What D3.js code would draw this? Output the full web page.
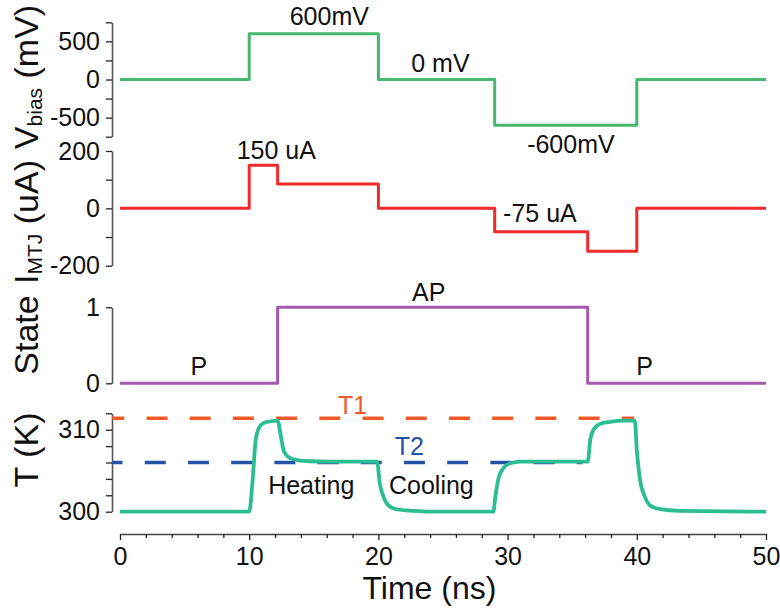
<!DOCTYPE html>
<html>
<head>
<meta charset="utf-8">
<script src="https://cdn.jsdelivr.net/npm/d3@7"></script>
<style>
  html, body { margin: 0; padding: 0; background: #fff; }
  svg { display: block; }
  text { font-family: "Liberation Sans", Arial, sans-serif; fill: #111; }
</style>
</head>
<body>
<svg id="chart" width="780" height="610"></svg>
<script>
// ---------------- data ----------------
// Vbias (mV) step levels, starting at each time (ns)
const vTimes  = [0, 10, 20, 29, 40, 50];
const vLevels = [0, 600, 0, -600, 0, 0];

// I_MTJ (uA) step levels
const iTimes  = [0, 10, 12.2, 20, 29, 36.2, 40, 50];
const iLevels = [0, 150, 85, 0, -82, -150, 0, 0];

// MTJ state (0 = P, 1 = AP)
const sTimes  = [0, 12.2, 36.2, 50];
const sLevels = [0, 1, 0, 0];

// Temperature (K)
const tTimes = [0, 10.0, 10.25, 10.5, 10.75, 11.1, 11.6, 12.2, 12.45, 12.7, 13.1, 13.7, 14.7, 16.3,
                19.9, 20.1, 20.4, 20.75, 21.4, 22.7, 24,
                28.9, 29.05, 29.3, 29.67, 30.19, 30.96, 32.0,
                36.2, 36.4, 36.65, 37.15, 37.93, 38.96, 39.85,
                40.0, 40.25, 40.63, 41.0, 41.8, 43.3, 50];
const tTemps = [300, 300, 303.5, 308.7, 310.2, 310.8, 311.0, 311.1, 309.2, 307.3, 306.6, 306.3, 306.15, 306.1,
                306.1, 303.5, 301.8, 300.8, 300.3, 300.1, 300,
                300, 301.8, 304.1, 305.3, 305.9, 306.1, 306.1,
                306.1, 308.8, 310.0, 310.7, 310.95, 311.1, 311.1,
                307.5, 303.9, 301.8, 300.8, 300.3, 300.1, 300];

// Threshold temperatures (dashed)
const thrNames  = ["T1", "T2"];
const thrTemps  = [311.4, 306.0];
const thrStart  = [-0.6, -0.6];
const thrEnd    = [39.8, 35.8];

// Axis ticks
const xTicks = d3.range(0, 51, 2);
const xLabels = [0, 10, 20, 30, 40, 50];
const vTicks = [-750, -500, -250, 0, 250, 500, 750];
const vLabels = [-500, 0, 500];
const iTicks = [-200, -100, 0, 100, 200];
const iLabels = [-200, 0, 200];
const sTicks = [0, 1];
const tTicks = [300, 302, 304, 306, 308, 310, 312];
const tLabels = [300, 310];

// Annotations: [text, time, value]
const vNotes = [["600mV", 16.2, 715], ["0 mV", 24.8, 102], ["-600mV", 34.9, -960]];
const iNotes = [["150 uA", 12.1, 172], ["-75 uA", 32.5, -48]];
const sNotes = [["P", 6.1, 0.11], ["AP", 23.9, 1.08], ["P", 40.6, 0.11]];
const tNotes = [["Heating", 14.8, 302.2], ["Cooling", 24.1, 302.2]];
const thrLabelPos = [[18.0, 311.9], [22.4, 306.9]];

// ---------------- drawing ----------------
const svg = d3.select("#chart");
svg.append("rect").attr("width", 780).attr("height", 610).attr("fill", "#fff");

const axisX = 112;
const x = d3.scaleLinear().domain([0, 50]).range([120, 766]);
const yV = d3.scaleLinear().domain([-750, 750]).range([136.7, 22.3]);
const yI = d3.scaleLinear().domain([-200, 200]).range([265.7, 151]);
const yS = d3.scaleLinear().domain([0, 1]).range([383.3, 307.3]);
const yT = d3.scaleLinear().domain([300, 312]).range([511.7, 413.3]);

const tickFont = 25;
const noteFont = 25;
function leftAxis(scale, ticks, labels) {
  const g = svg.append("g").attr("transform", `translate(${axisX},0)`)
    .call(d3.axisLeft(scale).tickValues(ticks).tickSize(6).tickSizeOuter(0).tickPadding(6)
      .tickFormat(d => labels.includes(d) ? String(d) : ""));
  g.select(".domain").attr("stroke", "#555").attr("stroke-width", 1.6);
  g.selectAll(".tick line").attr("stroke", "#222").attr("stroke-width", 1.3);
  g.selectAll(".tick text").attr("font-size", tickFont).attr("fill", "#111")
    .attr("font-family", '"Liberation Sans", Arial, sans-serif');
  return g;
}
leftAxis(yV, vTicks, vLabels);
leftAxis(yI, iTicks, iLabels);
leftAxis(yS, sTicks, sTicks);
leftAxis(yT, tTicks, tLabels);

// x axis
const gx = svg.append("g").attr("transform", "translate(0,534)")
  .call(d3.axisBottom(x).tickValues(xTicks).tickSize(6).tickSizeOuter(0).tickPadding(7)
    .tickFormat(d => xLabels.includes(d) ? d : ""));
gx.select(".domain").attr("stroke", "#444").attr("stroke-width", 1.4);
gx.selectAll(".tick line").attr("stroke", "#222").attr("stroke-width", 1.3)
  .attr("y2", d => xLabels.includes(d) ? 6 : 4);
gx.selectAll(".tick text").attr("font-size", tickFont).attr("fill", "#111")
  .attr("font-family", '"Liberation Sans", Arial, sans-serif');

// step lines
function stepLine(times, levels, yScale, color, width) {
  const pts = times.map((t, i) => [t, levels[i]]);
  svg.append("path").datum(pts)
    .attr("d", d3.line().x(d => x(d[0])).y(d => yScale(d[1])).curve(d3.curveStepAfter))
    .attr("fill", "none").attr("stroke", color).attr("stroke-width", width)
    .attr("stroke-linejoin", "round");
}
stepLine(vTimes, vLevels, yV, "#45b86c", 3);
stepLine(iTimes, iLevels, yI, "#ee2a2d", 3);
stepLine(sTimes, sLevels, yS, "#a359ad", 3);

// threshold dashed lines
const thrColors = ["#f05a2a", "#2453a6"];
const thrOffsets = [8.9, 10.7];
thrNames.forEach((n, i) => {
  svg.append("line")
    .attr("x1", x(thrStart[i])).attr("x2", x(thrEnd[i]))
    .attr("y1", yT(thrTemps[i])).attr("y2", yT(thrTemps[i]))
    .attr("stroke", thrColors[i]).attr("stroke-width", 3.5)
    .attr("stroke-dasharray", "21,22.2").attr("stroke-dashoffset", thrOffsets[i]);
  svg.append("text").attr("x", x(thrLabelPos[i][0])).attr("y", yT(thrLabelPos[i][1]))
    .attr("text-anchor", "middle").attr("font-size", noteFont).style("fill", thrColors[i]).text(n);
});

// temperature curve
const tPts = tTimes.map((t, i) => [t, tTemps[i]]);
svg.append("path").datum(tPts)
  .attr("d", d3.line().x(d => x(d[0])).y(d => yT(d[1])).curve(d3.curveMonotoneX))
  .attr("fill", "none").attr("stroke", "#2dbd92").attr("stroke-width", 3.8)
  .attr("stroke-linejoin", "round");

// annotations
function notes(list, yScale) {
  list.forEach(n => {
    svg.append("text").attr("x", x(n[1])).attr("y", yScale(n[2]))
      .attr("text-anchor", "middle").attr("font-size", noteFont).text(n[0]);
  });
}
notes(vNotes, yV);
notes(iNotes, yI);
notes(sNotes, yS);
notes(tNotes, yT);

// axis titles
const titleFont = 34;
function yTitle(cy, parts) {
  const t = svg.append("text").attr("transform", `translate(38,${cy}) rotate(-90)`)
    .attr("text-anchor", "middle").attr("font-size", titleFont);
  parts.forEach(p => {
    const s = t.append("tspan").text(p[0]);
    if (p[1]) s.attr("font-size", 21).attr("dy", 4);
    if (p[2]) s.attr("dy", -4);
  });
}
yTitle(77, [["V"], ["bias", true], [" (mV)", false, true]]);
yTitle(222, [["I"], ["MTJ", true], [" (uA)", false, true]]);
yTitle(335, [["State"]]);
yTitle(450, [["T (K)"]]);

svg.append("text").attr("x", x(23.95)).attr("y", 599).attr("text-anchor", "middle")
  .attr("font-size", 32).text("Time (ns)");
</script>
</body>
</html>
